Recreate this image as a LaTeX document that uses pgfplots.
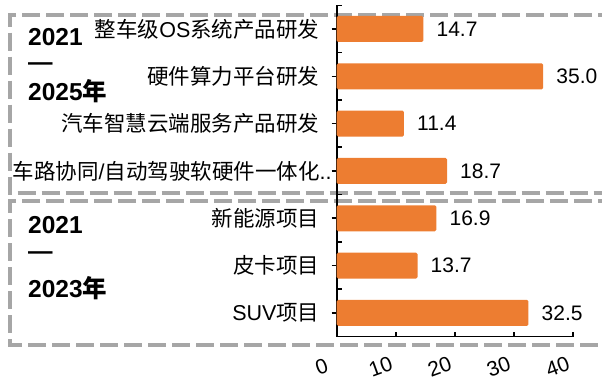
\documentclass[border=0pt]{standalone}
\usepackage{fontspec}
\setmainfont{Liberation Sans}
\newfontfamily\cjk{Noto Sans CJK SC}
\newfontfamily\cjkb{Noto Sans CJK SC Bold}
\usepackage{pgfplots}
\pgfplotsset{compat=1.18}
\definecolor{barorange}{HTML}{ED7D31}
\definecolor{boxgray}{HTML}{A6A6A6}
\begin{document}
\begin{tikzpicture}
\useasboundingbox (0,0) rectangle (602pt,-376pt);
\begin{scope}[draw=boxgray, line width=4pt, dash pattern=on 18pt off 6pt]
\draw (640pt,-14.5pt) -- (10pt,-14.5pt) -- (10pt,-193pt) -- (640pt,-193pt);
\draw (640pt,-201pt) -- (10pt,-201pt) -- (10pt,-345pt) -- (640pt,-345pt);
\end{scope}
\begin{scope}[every node/.style={anchor=base west, inner sep=0pt, font=\fontsize{24.5}{24.5}\selectfont\bfseries}]
\node at (28pt,-45pt) {2021};
\node at (28pt,-70pt) {—};
\node at (28pt,-100pt) {2025{\cjkb 年}};
\node at (28pt,-233pt) {2021};
\node at (28pt,-259pt) {—};
\node at (28pt,-297pt) {2023{\cjkb 年}};
\end{scope}
\begin{axis}[
  at={(336.7pt,-336.6pt)}, anchor=south west, scale only axis,
  width=236pt, height=331.3pt,
  xbar, bar width=26pt,
  xmin=0, xmax=40, ymin=-0.5, ymax=6.5, y dir=reverse,
  axis lines*=left,
  axis line style={line width=1.6pt, black, -},
  every tick/.style={black, line width=1.6pt},
  major tick length=5pt,
  xtick={0,10,20,30,40}, xtick align=inside,
  ytick={0,1,2,3,4,5,6}, ytick align=outside,
  extra y ticks={-0.5,0.5,1.5,2.5,3.5,4.5,5.5},
  extra y tick labels={},
  extra y tick style={ytick align=inside},
  yticklabels={{\cjk 整车级}OS{\cjk 系统产品研发}, {\cjk 硬件算力平台研发}, {\cjk 汽车智慧云端服务产品研发}, {\cjk 车路协同}/{\cjk 自动驾驶软硬件一体化}..\hspace*{-12pt}, {\cjk 新能源项目}, {\cjk 皮卡项目}, SUV{\cjk 项目}},
  yticklabel style={font=\fontsize{21.5}{21.5}\selectfont, inner sep=0pt, anchor=east, xshift=-12pt},
  xticklabel style={font=\fontsize{21}{21}\selectfont, inner sep=0pt, anchor=center, xshift=-15pt, yshift=-30pt, rotate=20},
  /pgf/number format/assume math mode=true,
  point meta=x,
  nodes near coords={\pgfmathprintnumber[fixed, fixed zerofill, precision=1]{\pgfplotspointmeta}},
  nodes near coords style={anchor=west, inner sep=0pt, xshift=13pt, font=\fontsize{21}{21}\selectfont, black},
  clip=false,
]
\addplot[fill=barorange, draw=none, rounded corners=1.5pt] coordinates {
  (14.7,0) (35.0,1) (11.4,2) (18.7,3) (16.9,4) (13.7,5) (32.5,6)
};
\end{axis}
\end{tikzpicture}
\end{document}
